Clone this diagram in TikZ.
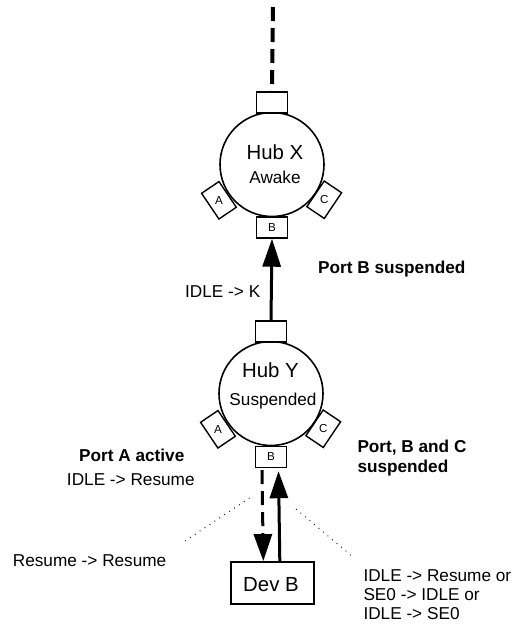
\documentclass[tikz,border=0pt]{standalone}
\usepackage{fontspec}
\setmainfont{Liberation Sans}
\usetikzlibrary{arrows.meta,calc}
\begin{document}
\begin{tikzpicture}[x=1pt,y=1pt,
  hub/.style={circle,draw,line width=1.6pt,fill=white,minimum size=104pt,inner sep=0pt},
  port/.style={rectangle,draw,line width=1.4pt,fill=white,minimum width=31pt,minimum height=21pt,inner sep=0pt,font=\fontsize{11.6}{13}\selectfont},
  devbox/.style={rectangle,draw,line width=1.6pt,fill=white,minimum width=83pt,minimum height=42pt,inner sep=0pt},
  lbl/.style={anchor=base west,inner sep=0pt,font=\fontsize{17.2}{20}\selectfont},
  blbl/.style={anchor=base west,inner sep=0pt,font=\fontsize{17.2}{20}\selectfont\bfseries},
  bigtxt/.style={anchor=base,inner sep=0pt,font=\fontsize{20.4}{24}\selectfont},
  subtxt/.style={anchor=base,inner sep=0pt,font=\fontsize{17.2}{20}\selectfont},
  link/.style={line width=3pt,-{Triangle[length=27pt,width=18pt]}},
  dlink/.style={link,dash pattern=on 14pt off 7pt},
  topline/.style={line width=4pt,dash pattern=on 14pt off 7pt},
  leader/.style={line width=0.9pt,dash pattern=on 0.9pt off 5pt},
]
\useasboundingbox (0,0) rectangle (513,-630);

% Hub X
\node[hub] (hx) at (272,-164.5) {};
\node[port] (xt) at ($(hx)+(90:62)$) {};
\node[port] (xb) at ($(hx)+(270:63)$) {B};
\node[port,rotate=-56] (xa) at ($(hx)+(214:64)$) {\rotatebox{56}{A}};
\node[port,rotate=56] (xc) at ($(hx)+(326:63)$) {\rotatebox{-56}{C}};
\node[bigtxt] (xname) at (275,-159.3) {Hub X};
\node[subtxt] (xstate) at (275,-183) {Awake};

% Hub Y
\node[hub] (hy) at (271,-393.5) {};
\node[port] (yt) at ($(hy)+(90:62)$) {};
\node[port] (yb) at ($(hy)+(270:63.5)$) {B};
\node[port,rotate=-56] (ya) at ($(hy)+(214:64)$) {\rotatebox{56}{A}};
\node[port,rotate=56] (yc) at ($(hy)+(326:63)$) {\rotatebox{-56}{C}};
\node[bigtxt] (yname) at (270.5,-377) {Hub Y};
\node[subtxt] (ystate) at (273,-405) {Suspended};

% Device
\node[devbox] (dev) at (272.3,-582.9) {};
\node[bigtxt] (devname) at (271,-591.7) {Dev B};

% connectors
\coordinate (top) at (273,-7);
\draw[topline] (top) -- (xt.north);
\draw[link,-{Triangle[length=28pt,width=18pt]}] (yt.north) -- (xb.south);
\draw[dlink] ([xshift=-9pt,yshift=-2pt]yb.south) -- ([xshift=-9pt]dev.north);
\draw[link] ([xshift=7.5pt]dev.north) -- ([xshift=7.5pt,yshift=-3pt]yb.south);

% leader lines
\coordinate (l1a) at (185,-541);
\coordinate (l1b) at (251,-497);
\coordinate (l2a) at (296,-509);
\coordinate (l2b) at (353,-557);
\draw[leader] (l1a) -- (l1b);
\draw[leader] (l2a) -- (l2b);

% labels
\node[blbl] (pbs) at (318,-273) {Port B suspended};
\node[lbl] (ik) at (185,-297.3) {IDLE -> K};
\node[blbl,anchor=base] (paa) at (131.8,-461.7) {Port A active};
\node[lbl,anchor=base] (ir) at (130.8,-485) {IDLE -> Resume};
\node[lbl] (rr) at (12.7,-566) {Resume -> Resume};
\node[blbl] (pbc1) at (357.3,-452) {Port, B and C};
\node[blbl] (pbc2) at (357.3,-472.3) {suspended};
\node[lbl] (t1) at (363.3,-581.7) {IDLE -> Resume or};
\node[lbl] (t2) at (363.3,-600.3) {SE0 -> IDLE or};
\node[lbl] (t3) at (363.3,-619) {IDLE -> SE0};
\end{tikzpicture}
\end{document}
